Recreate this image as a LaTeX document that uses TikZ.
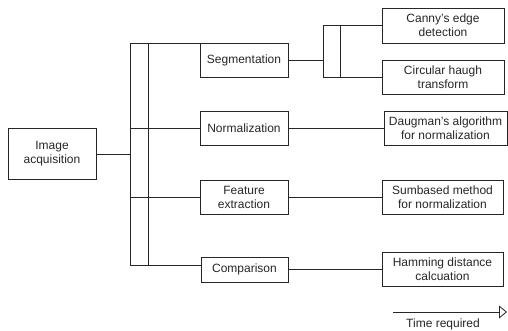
\documentclass[tikz,border=0pt]{standalone}
\usepackage{fontspec}
\setmainfont{Liberation Sans}
\usetikzlibrary{arrows.meta}
\begin{document}
\begin{tikzpicture}[x=1pt,y=-1pt,
  box/.style={draw=black!85,line width=0.8pt,inner sep=0pt,align=center,
    font=\fontsize{12}{14}\selectfont,text=black!85},
  conn/.style={draw=black!85,line width=0.8pt},
  lbl/.style={inner sep=0pt,font=\fontsize{12}{14}\selectfont,text=black!85}]
\useasboundingbox (0,0) rectangle (508,331);
% boxes
\node[box,minimum width=88,minimum height=51] (ia) at (52,154) {Image\\acquisition};
\node[box,minimum width=88,minimum height=34] (seg) at (244,60) {Segmentation};
\node[box,minimum width=88,minimum height=34] (norm) at (244,128) {Normalization};
\node[box,minimum width=88,minimum height=34] (feat) at (244,197) {Feature\\extraction};
\node[box,minimum width=87,minimum height=25] (comp) at (244.5,269.5) {Comparison};
\node[box,minimum width=122,minimum height=35] (canny) at (443,25.5) {Canny's edge\\detection};
\node[box,minimum width=122,minimum height=34] (circ) at (443,77) {Circular haugh\\transform};
\node[box,minimum width=123,minimum height=34] (daug) at (445.5,128) {Daugman's algorithm\\for normalization};
\node[box,minimum width=121,minimum height=34] (sum) at (442.5,197) {Sumbased method\\for normalization};
\node[box,minimum width=121,minimum height=34] (ham) at (442.5,269.5) {Hamming distance\\calcuation};
% main bracket
\coordinate (bm) at (130,154);
\coordinate (bt) at (130,43);
\coordinate (bb) at (130,265);
\coordinate (it) at (148,43);
\coordinate (ib) at (148,265);
\coordinate (b2) at (130,128);
\coordinate (b3) at (130,197);
\draw[conn] (ia.east) -- (bm);
\draw[conn] (bt) -- (bb);
\draw[conn] (it) -- (ib);
\draw[conn] (bt) -- (bt -| seg.west);
\draw[conn] (b2) -- (norm.west);
\draw[conn] (b3) -- (feat.west);
\draw[conn] (bb) -- (bb -| comp.west);
% small bracket
\coordinate (sm) at (323,60);
\coordinate (st) at (323,25.5);
\coordinate (sb) at (323,77);
\coordinate (sit) at (340,25.5);
\coordinate (sib) at (340,77);
\draw[conn] (seg.east) -- (sm);
\draw[conn] (st) -- (sb);
\draw[conn] (sit) -- (sib);
\draw[conn] (st) -- (canny.west);
\draw[conn] (sb) -- (circ.west);
% other connectors
\draw[conn] (norm.east) -- (daug.west);
\draw[conn] (feat.east) -- (sum.west);
\draw[conn] (comp.east) -- (ham.west);
% time arrow
\coordinate (t0) at (393,312);
\coordinate (t1) at (507,312);
\draw[conn,-{Triangle[open,length=8pt,width=13pt]}] (t0) -- (t1);
\node[lbl] (time) at (443,324) {Time required};
\end{tikzpicture}
\end{document}
